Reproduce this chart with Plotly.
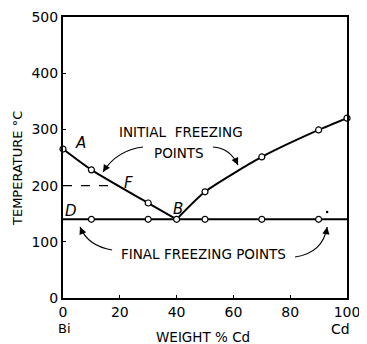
import plotly.graph_objects as go

# Data
initial_a_x = [0, 10, 30, 40]
initial_a_y = [265, 228, 169, 140]
initial_b_x = [40, 50, 70, 90, 100]
initial_b_y = [140, 189, 251, 299, 320]
final_x = [0, 100]
final_y = [140, 140]
final_pts_x = [10, 30, 50, 70, 90]
eutectic_t = 140
f_temp = 200
f_x = 19.5
x_ticks = [0, 20, 40, 60, 80, 100]
y_ticks = [0, 100, 200, 300, 400, 500]

FONT = "DejaVu Sans"
fig = go.Figure()

line = dict(color="black", width=2)
fig.add_trace(go.Scatter(x=final_x, y=final_y, mode="lines", line=line))
fig.add_trace(go.Scatter(x=[0, f_x], y=[f_temp, f_temp], mode="lines",
                         line=dict(color="black", width=1.3, dash="dash")))
fig.add_trace(go.Scatter(x=initial_a_x, y=initial_a_y, mode="lines",
                         line=dict(color="black", width=2, shape="spline", smoothing=0.6)))
fig.add_trace(go.Scatter(x=initial_b_x, y=initial_b_y, mode="lines",
                         line=dict(color="black", width=2, shape="spline", smoothing=0.6)))
mk = dict(symbol="circle", size=6, color="white", line=dict(color="black", width=1.2))
fig.add_trace(go.Scatter(x=initial_a_x + initial_b_x[1:], y=initial_a_y + initial_b_y[1:],
                         mode="markers", marker=mk, cliponaxis=False))
fig.add_trace(go.Scatter(x=final_pts_x, y=[eutectic_t] * len(final_pts_x),
                         mode="markers", marker=mk))
fig.add_trace(go.Scatter(x=[93], y=[153], mode="markers",
                         marker=dict(size=2.5, color="black")))

# curved arrows: (start, control, end) in data coords
arrows = [
    ((28.2, 268.7), (19.0, 263.3), (14.1, 224.2)),
    ((52.8, 268.7), (58.8, 266.9), (61.6, 236.7)),
    ((17.3, 85.4), (8.8, 92.5), (6.0, 126.3)),
    ((81.7, 73.0), (91.5, 80.0), (93.0, 126.3)),
]
for s, c, e in arrows:
    fig.add_shape(type="path", xref="x", yref="y",
                  path=f"M {s[0]},{s[1]} Q {c[0]},{c[1]} {e[0]},{e[1]}",
                  line=dict(color="black", width=1.2))
    tx = e[0] + 0.25 * (c[0] - e[0])
    ty = e[1] + 0.25 * (c[1] - e[1])
    fig.add_annotation(x=e[0], y=e[1], ax=tx, ay=ty, axref="x", ayref="y",
                       xref="x", yref="y", text="", showarrow=True,
                       arrowhead=2, arrowsize=1.2, arrowwidth=1.2, arrowcolor="black")

def lab(text, x, y, size=15, italic=True, xref="x", yref="y", angle=0):
    t = f"<i>{text}</i>" if italic else text
    fig.add_annotation(x=x, y=y, xref=xref, yref=yref, text=t, showarrow=False,
                       textangle=angle, xanchor="center", yanchor="middle",
                       font=dict(family=FONT, size=size, color="black"))

lab("A", 6, 276)
lab("D", 2.8, 155)
lab("F", 23, 205)
lab("B", 40.5, 158)
lab("C", 104.6, 320, italic=False)
lab("E", 103.5, 137)
lab("INITIAL  FREEZING", 41.5, 295, size=13.5, italic=False)
lab("POINTS", 41, 258, size=13.5, italic=False)
lab("FINAL FREEZING POINTS", 49.3, 79, size=13.5, italic=False)
# below-axis labels (paper coords: plot area spans page x 63..347, y 17..298)
W, H = 284, 281
lab("Bi", (64 - 63) / W, (298 - 328.5) / H, size=13, italic=False, xref="paper", yref="paper")
lab("Cd", (340 - 63) / W, (298 - 328.5) / H, size=14, italic=False, xref="paper", yref="paper")
lab("WEIGHT % Cd", (203 - 63) / W, (298 - 337) / H, size=13.5, italic=False,
    xref="paper", yref="paper")
lab("TEMPERATURE °C", (17 - 63) / W, (298 - 169) / H, size=13, italic=False,
    xref="paper", yref="paper", angle=-90)

# page body has an 8px margin, so the figure is sized/offset to compensate
fig.update_layout(
    width=359, height=336,
    margin=dict(l=55, r=20, t=9, b=46),
    paper_bgcolor="white", plot_bgcolor="white",
    showlegend=False,
    font=dict(family=FONT, color="black"),
)
fig.update_xaxes(range=[0, 100], tickvals=x_ticks, ticktext=[str(v) for v in x_ticks],
                 showgrid=False, zeroline=False, showline=True, mirror=True,
                 linecolor="black", linewidth=2, ticks="inside", ticklen=3,
                 tickcolor="black", tickfont=dict(size=14), automargin=False)
fig.update_yaxes(range=[0, 500], tickvals=y_ticks, ticktext=[str(v) for v in y_ticks],
                 showgrid=False, zeroline=False, showline=True, mirror=True,
                 linecolor="black", linewidth=2, ticks="inside", ticklen=3,
                 tickcolor="black", tickfont=dict(size=14), automargin=False)

fig.write_html("out.html")
